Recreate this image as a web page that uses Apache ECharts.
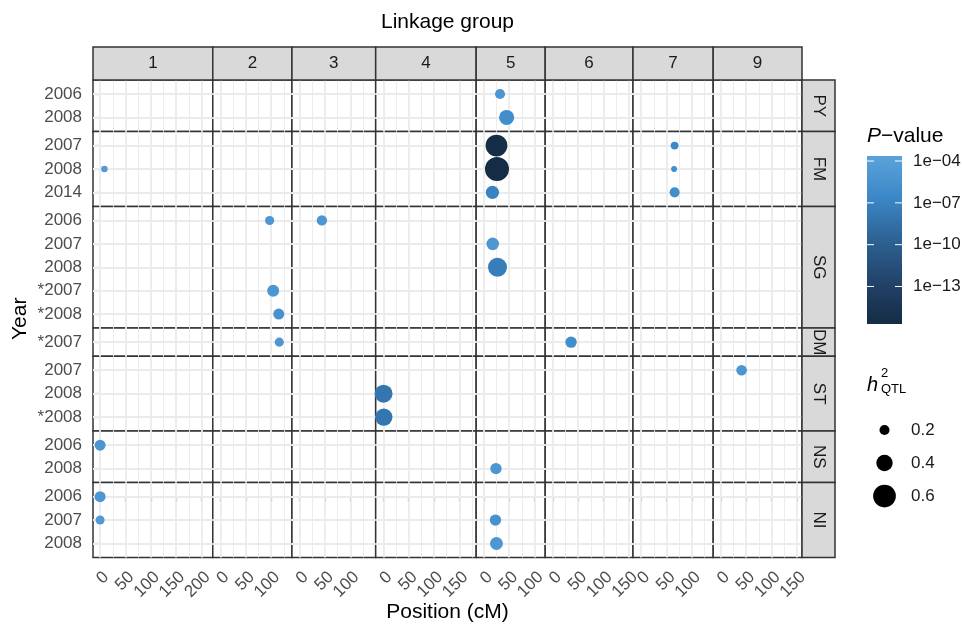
<!DOCTYPE html>
<html><head><meta charset="utf-8">
<script src="https://cdn.jsdelivr.net/npm/echarts@6/dist/echarts.min.js"></script>
<style>html,body{margin:0;padding:0;background:#fff}#c{width:962px;height:624px}</style>
</head><body><div id="c"></div>
<script>
// ---------- data ----------
const groups = ['1','2','3','4','5','6','7','9'];
const groupMin = [-14,-15,-15,-15,-15,-15,-16,-15];
const groupMax = [222,141,150,183,121,158,142,160];
const xTicks = [[0,50,100,150,200],[0,50,100],[0,50,100],[0,50,100,150],[0,50,100],[0,50,100,150],[0,50,100],[0,50,100,150]];
const traits = ['PY','FM','SG','DM','ST','NS','NI'];
const traitYears = [
  ['2006','2008'],
  ['2007','2008','2014'],
  ['2006','2007','2008','*2007','*2008'],
  ['*2007'],
  ['2007','2008','*2008'],
  ['2006','2008'],
  ['2006','2007','2008']
];
// QTL records
const qtlTrait = ['PY','PY','FM','FM','FM','FM','FM','FM','FM','SG','SG','SG','SG','SG','SG','DM','DM','ST','ST','ST','NS','NS','NI','NI','NI','NI'];
const qtlYear  = ['2006','2008','2007','2008','2014','2007','2008','2014','2008','2006','2006','2007','2008','*2007','*2008','*2007','*2007','2007','2008','*2008','2006','2008','2006','2007','2007','2008'];
const qtlGroup = ['5','5','5','5','5','7','7','7','1','2','3','5','5','2','2','2','6','9','4','4','1','5','1','1','5','5'];
const qtlPos   = [32,45,25,26,17,66,65,66,8.5,97,44,17.6,27,104,115,116,36,41,0.5,1,0,24,0,0,23,25];
const qtlLog10P= [-5,-6,-15.5,-15.7,-7,-6.5,-6,-6,-4.5,-5,-5,-5,-7.5,-5,-5.5,-5,-6,-5,-8,-8,-5,-5,-5,-4.5,-5.5,-5];
const qtlH2    = [0.20,0.36,0.57,0.64,0.30,0.13,0.07,0.20,0.09,0.17,0.21,0.28,0.48,0.26,0.23,0.17,0.24,0.22,0.45,0.43,0.23,0.24,0.23,0.17,0.24,0.29];
// legends
const pLimits = [-15.69, -3.64];
const pTicks = [-4,-7,-10,-13];
const pTickLabels = ['1e\u221204','1e\u221207','1e\u221210','1e\u221213'];
const h2Breaks = [0.2,0.4,0.6];
const h2Labels = ['0.2','0.4','0.6'];

// ---------- styling / layout ----------
const FONT = 'Liberation Sans, Arial, Helvetica, sans-serif';
const palette = ['#142C45','#23436A','#2D6293','#3B87C7','#5BA2DA'];
const sizeOf = h => 3.7 + 31.75 * h;
const L = 93, T = 80, PW = 709, PH = 477.5;
const totalX = groupMax.reduce((s,v,i)=>s+(v-groupMin[i]),0);
const kx = PW/totalX;
const colX=[], colW=[]; { let a=L; groups.forEach((g,i)=>{ const w=(groupMax[i]-groupMin[i])*kx; colX.push(a); colW.push(w); a+=w; }); }
const totalY = traitYears.reduce((s,y)=>s+y.length+0.2,0);
const ky = PH/totalY;
const rowY=[], rowH=[]; { let a=T; traitYears.forEach(y=>{ const h=(y.length+0.2)*ky; rowY.push(a); rowH.push(h); a+=h; }); }

const grids=[], xAxes=[], yAxes=[], series=[], pointSeries=[];
const nR = traits.length, nC = groups.length;
const majorStyle = {color:'#EBEBEB', width:1.8, type:'solid'};
const minorStyle = {color:'#EBEBEB', width:0.9, type:'solid'};
for (let r=0;r<nR;r++){
  const years = traitYears[r];
  for (let c=0;c<nC;c++){
    const idx = grids.length;
    grids.push({left:colX[c], top:rowY[r], width:colW[c], height:rowH[r], show:true,
      borderColor:'#333333', borderWidth:1.5, backgroundColor:'#FFFFFF', containLabel:false});
    const bottom = r===nR-1, left = c===0;
    xAxes.push({gridIndex:idx, type:'value', min:groupMin[c], max:groupMax[c],
      axisLine:{show:false}, splitLine:{show:false},
      axisTick:{show:bottom, customValues:xTicks[c], length:5, lineStyle:{color:'#333333', width:1.1}},
      axisLabel:{show:bottom, customValues:xTicks[c], rotate:45, align:'right', verticalAlign:'top',
        margin:11, color:'#4D4D4D', fontSize:17, fontFamily:FONT}});
    const yIdx = years.map((_,i)=>i);
    yAxes.push({gridIndex:idx, type:'value', inverse:true, min:-0.6, max:years.length-0.4,
      axisLine:{show:false}, splitLine:{show:false},
      axisTick:{show:left, customValues:yIdx, length:5, lineStyle:{color:'#333333', width:1.1}},
      axisLabel:{show:left, customValues:yIdx, formatter:v=>years[Math.round(v)]||'',
        margin:11, padding:[2,0,0,0], color:'#4D4D4D', fontSize:17, fontFamily:FONT}});
    // grid lines
    const lines=[];
    xTicks[c].forEach(v=>{ const m=v+25; if(m>groupMin[c]&&m<groupMax[c]) lines.push({xAxis:m, lineStyle:minorStyle}); });
    xTicks[c].forEach(v=>lines.push({xAxis:v, lineStyle:majorStyle}));
    yIdx.forEach(v=>lines.push({yAxis:v, lineStyle:majorStyle}));
    series.push({type:'scatter', xAxisIndex:idx, yAxisIndex:idx, data:[], silent:true, z:1,
      markLine:{silent:true, symbol:['none','none'], label:{show:false}, animation:false,
        emphasis:{disabled:true}, data:lines}});
    // points
    const pts=[];
    qtlTrait.forEach((t,i)=>{
      if (t===traits[r] && qtlGroup[i]===groups[c])
        pts.push([qtlPos[i], years.indexOf(qtlYear[i]), qtlLog10P[i], qtlH2[i]]);
    });
    if (pts.length){
      pointSeries.push(series.length);
      series.push({type:'scatter', xAxisIndex:idx, yAxisIndex:idx, data:pts, z:5,
        symbolSize:v=>sizeOf(v[3]), itemStyle:{opacity:1}, emphasis:{disabled:true}});
    }
  }
}

// ---------- graphics: strips, titles, legends ----------
const G=[];
const stripStyle={fill:'#D9D9D9', stroke:'#333333', lineWidth:1.5};
groups.forEach((g,c)=>{
  G.push({type:'rect', shape:{x:colX[c], y:47, width:colW[c], height:T-47}, style:stripStyle, z:10});
  G.push({type:'text', x:colX[c]+colW[c]/2, y:(47+T)/2, z:11,
    style:{text:g, fill:'#1A1A1A', fontSize:17, fontFamily:FONT, align:'center', verticalAlign:'middle'}});
});
const SX = L+PW;
traits.forEach((t,r)=>{
  G.push({type:'rect', shape:{x:SX, y:rowY[r], width:33, height:rowH[r]}, style:stripStyle, z:10});
  G.push({type:'text', x:SX+16.5, y:rowY[r]+rowH[r]/2, rotation:-Math.PI/2, z:11,
    style:{text:t, fill:'#1A1A1A', fontSize:17, fontFamily:FONT, align:'center', verticalAlign:'middle'}});
});
G.push({type:'text', x:L+PW/2, y:22, z:11, style:{text:'Linkage group', fill:'#000', fontSize:21, fontFamily:FONT, align:'center', verticalAlign:'middle'}});
G.push({type:'text', x:L+PW/2, y:612, z:11, style:{text:'Position (cM)', fill:'#000', fontSize:21, fontFamily:FONT, align:'center', verticalAlign:'middle'}});
G.push({type:'text', x:20, y:T+PH/2, rotation:Math.PI/2, z:11, style:{text:'Year', fill:'#000', fontSize:21, fontFamily:FONT, align:'center', verticalAlign:'middle'}});
// P-value colorbar
const cbX=867, cbY=156, cbW=35, cbH=168;
G.push({type:'text', x:867, y:136, z:11, style:{text:'{i|P}\u2212value', rich:{i:{fontStyle:'italic', fontSize:21, fontFamily:FONT, fill:'#000'}}, fill:'#000', fontSize:21, fontFamily:FONT, align:'left', verticalAlign:'middle'}});
const stops = palette.map((col,i)=>({offset:1-i/(palette.length-1), color:col}));
G.push({type:'rect', shape:{x:cbX, y:cbY, width:cbW, height:cbH}, z:10,
  style:{fill:new echarts.graphic.LinearGradient(0,0,0,1, stops.slice().sort((a,b)=>a.offset-b.offset))}});
pTicks.forEach((v,i)=>{
  const y = cbY + (pLimits[1]-v)/(pLimits[1]-pLimits[0])*cbH;
  G.push({type:'line', shape:{x1:cbX, y1:y, x2:cbX+7, y2:y}, style:{stroke:'#FFFFFF', lineWidth:1}, z:12});
  G.push({type:'line', shape:{x1:cbX+cbW-7, y1:y, x2:cbX+cbW, y2:y}, style:{stroke:'#FFFFFF', lineWidth:1}, z:12});
  G.push({type:'text', x:913, y:y, z:11, style:{text:pTickLabels[i], fill:'#1A1A1A', fontSize:17, fontFamily:FONT, align:'left', verticalAlign:'middle'}});
});
// h2 legend
G.push({type:'text', x:867, y:385, z:11, style:{text:'h', fill:'#000', fontSize:20, fontStyle:'italic', fontFamily:FONT, align:'left', verticalAlign:'middle'}});
G.push({type:'text', x:881, y:373, z:11, style:{text:'2', fill:'#000', fontSize:13, fontFamily:FONT, align:'left', verticalAlign:'middle'}});
G.push({type:'text', x:881, y:389, z:11, style:{text:'QTL', fill:'#000', fontSize:13, fontFamily:FONT, align:'left', verticalAlign:'middle'}});
h2Breaks.forEach((h,i)=>{
  const y = 430 + i*33;
  G.push({type:'circle', shape:{cx:884.5, cy:y, r:sizeOf(h)/2}, style:{fill:'#000'}, z:11});
  G.push({type:'text', x:911, y:y, z:11, style:{text:h2Labels[i], fill:'#1A1A1A', fontSize:17, fontFamily:FONT, align:'left', verticalAlign:'middle'}});
});

const chart = echarts.init(document.getElementById('c'), null, {renderer:'canvas'});
chart.setOption({
  animation:false,
  backgroundColor:'#FFFFFF',
  grid:grids, xAxis:xAxes, yAxis:yAxes, series:series,
  visualMap:{type:'continuous', show:false, min:pLimits[0], max:pLimits[1], dimension:2,
    seriesIndex:pointSeries, inRange:{color:palette}},
  graphic:{elements:G}
});
</script>
</body></html>
